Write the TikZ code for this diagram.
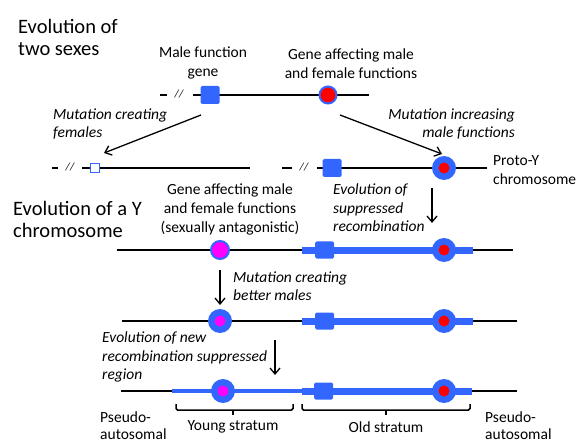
\documentclass[tikz,border=0pt]{standalone}
\usepackage{fontspec}
\setmainfont{Carlito}
\usetikzlibrary{arrows.meta}
\definecolor{cblue}{RGB}{51,102,255}
\definecolor{cred}{RGB}{255,0,0}
\definecolor{cmag}{RGB}{255,0,255}
\begin{document}
\begin{tikzpicture}[x=1pt,y=-1pt,
  lbl/.style={font=\fontsize{15.5}{19}\selectfont, inner sep=0pt, align=center},
  lbll/.style={lbl, align=left, anchor=west},
  ital/.style={font=\fontsize{15.5}{18.5}\selectfont\itshape, inner sep=0pt},
  ttl/.style={font=\fontsize{20.5}{23}\selectfont, inner sep=0pt, align=left, anchor=west},
  chrom/.style={line width=2.5pt, black},
  band/.style={line width=7pt, cblue},
  thinband/.style={line width=4pt, cblue},
  brk/.style={font=\fontsize{11}{11}\selectfont\itshape, inner sep=0pt},
  sq/.style={rectangle, fill=cblue, rounded corners=1.5pt, minimum width=19pt, minimum height=18pt, inner sep=0pt},
  hsq/.style={rectangle, fill=white, draw=cblue, line width=1.5pt, minimum size=9pt, inner sep=0pt},
  rgene/.style={circle, fill=cred, draw=cblue, line width=2pt, minimum size=17pt, inner sep=0pt},
  mgene/.style={circle, fill=cmag, draw=cblue, line width=2pt, minimum size=18pt, inner sep=0pt},
  gout/.style={circle, fill=cblue, minimum size=24pt, inner sep=0pt},
  ginr/.style={circle, fill=cred, minimum size=11pt, inner sep=0pt},
  ginm/.style={circle, fill=cmag, minimum size=11pt, inner sep=0pt},
  arr/.style={line width=1.3pt, -{Straight Barb[length=6pt,width=10pt]}},
  brace/.style={line width=1.5pt, rounded corners=1.5pt}
]
\useasboundingbox (0,0) rectangle (577,443);

% titles
\node[ttl] (t1) at (18,37) {Evolution of\\[-1pt]two sexes};
\node[ttl] (t2) at (13,219) {Evolution of a Y\\[-1pt]chromosome};

% labels
\node[lbl] (malelab) at (203,63) {Male function\\gene};
\node[lbl] (genelab) at (351,64) {Gene affecting male\\and female functions};
\node[ital, align=left, anchor=west] (mutF) at (53,124) {Mutation creating\\females};
\node[ital, align=right, anchor=east] (mutM) at (515,124) {Mutation increasing\\male functions};
\node[lbll] (protoY) at (493,170) {Proto-Y\\chromosome};
\node[lbl] (genelab2) at (230,209) {Gene affecting male\\and female functions\\(sexually antagonistic)};
\node[ital, align=left, anchor=west] (evsup) at (333,208) {Evolution of\\suppressed\\recombination};
\node[ital, align=left, anchor=west] (mutB) at (233,286) {Mutation creating\\better males};
\node[ital, align=left, anchor=west] (evnew) at (102,357) {Evolution of new\\recombination suppressed\\region};
\node[lbll, font=\fontsize{15.5}{17.5}\selectfont] (pseudoL) at (100,425.5) {Pseudo-\\autosomal};
\node[lbll, font=\fontsize{15.5}{17.5}\selectfont] (pseudoR) at (485,425.5) {Pseudo-\\autosomal};
\node[lbl] (young) at (233,427) {Young stratum};
\node[lbl] (old) at (386,427) {Old stratum};

% row 1
\draw[chrom] (160,95) -- (167,95);
\node[brk] (b1) at (179,94) {//};
\draw[chrom] (193,95) -- (369,95);
\node[sq] (m1) at (210,95) {};
\node[rgene] (g1) at (328,95) {};

% row 2 left
\draw[chrom] (52,168) -- (58,168);
\node[brk] (b2) at (70,167) {//};
\draw[chrom] (82,168) -- (250,168);
\node[hsq] (f2) at (95,168) {};
% row 2 right
\draw[chrom] (282,168) -- (292,168);
\node[brk] (b3) at (304,167) {//};
\draw[chrom] (317,168) -- (487,168);
\node[sq] (m2) at (332,168) {};
\node[gout] (g2o) at (444,168) {};
\node[ginr] (g2i) at (444,168) {};

% row 3
\draw[chrom] (117,250) -- (513,250);
\draw[band] (302,250) -- (473,250);
\node[sq, minimum height=17pt] (m3) at (324.5,250) {};
\node[gout] (g3o) at (444,250) {};
\node[ginr] (g3i) at (444,250) {};
\node[mgene] (s3) at (220,250) {};

% row 4
\draw[chrom] (122,321) -- (517,321);
\draw[band] (302,321) -- (473,321);
\node[sq, minimum height=17pt] (m4) at (324.5,321) {};
\node[gout] (g4o) at (444,321) {};
\node[ginr] (g4i) at (444,321) {};
\node[gout] (s4o) at (220,321) {};
\node[ginm] (s4i) at (220,321) {};

% row 5
\draw[chrom] (121,391) -- (517,391);
\draw[thinband] (172,391) -- (302,391);
\draw[band] (302,391) -- (472,391);
\node[sq, minimum height=17pt] (m5) at (323.5,391) {};
\node[gout] (g5o) at (444,391) {};
\node[ginr] (g5i) at (444,391) {};
\node[gout] (s5o) at (223,391) {};
\node[ginm] (s5i) at (223,391) {};

% arrows
\coordinate (a1s) at (201,115);
\coordinate (a1e) at (104,153);
\coordinate (a2s) at (340,115);
\coordinate (a2e) at (442,154);
\coordinate (a3s) at (432,188);
\coordinate (a3e) at (432,223);
\coordinate (a4s) at (220,270);
\coordinate (a4e) at (220,305);
\coordinate (a5s) at (275,340);
\coordinate (a5e) at (275,375);
\draw[arr] (a1s) -- (a1e);
\draw[arr] (a2s) -- (a2e);
\draw[arr] (a3s) -- (a3e);
\draw[arr] (a4s) -- (a4e);
\draw[arr] (a5s) -- (a5e);

% brackets
\draw[brace] (176,404) -- (176,410) -- (293,410) -- (293,404);
\draw[line width=1.5pt] (233,410) -- (233,415);
\draw[brace] (302,404) -- (302,410) -- (470,410) -- (470,404);
\draw[line width=1.5pt] (386,410) -- (386,415);
\end{tikzpicture}
\end{document}
